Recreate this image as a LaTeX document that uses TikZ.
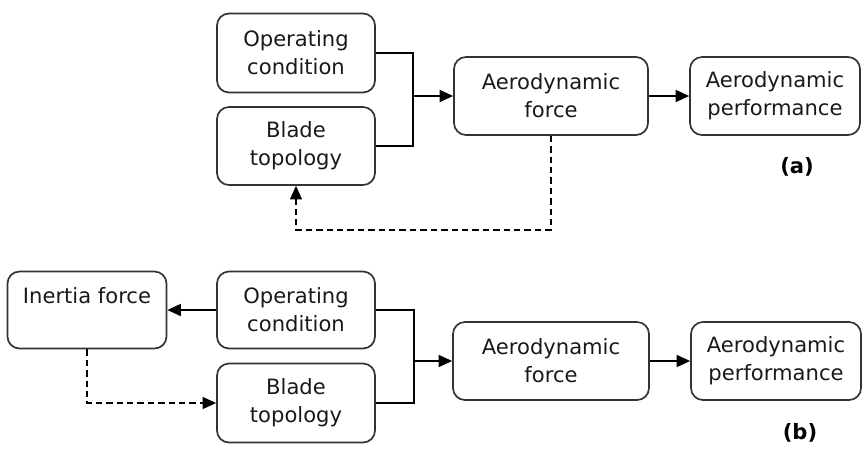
\documentclass[tikz,border=0pt]{standalone}
\usepackage{fontspec}
\setmainfont{DejaVu Sans}
\usetikzlibrary{arrows.meta}
\begin{document}
\begin{tikzpicture}[x=0.025cm,y=-0.025cm,
  box/.style={draw=black!80, line width=1.2pt, rounded corners=0.3cm,
    align=center, inner sep=0pt,
    font=\fontsize{15}{20}\selectfont, text=black!90},
  link/.style={line width=1.3pt, -{Triangle[length=0.34cm,width=0.3cm]}},
  plain/.style={line width=1.3pt},
  dashlink/.style={line width=1.1pt, dash pattern=on 0.16cm off 0.1cm,
    -{Triangle[length=0.34cm,width=0.3cm]}},
  tag/.style={font=\fontsize{15}{18}\selectfont\bfseries}]
\useasboundingbox (0,0) rectangle (865,456);

% ---- (a) ----
\node[box, minimum width=158*0.025cm, minimum height=79*0.025cm] (oca) at (296,53) {Operating\\condition};
\node[box, minimum width=158*0.025cm, minimum height=78*0.025cm] (bta) at (296,146) {Blade\\topology};
\node[box, minimum width=194*0.025cm, minimum height=78*0.025cm] (afa) at (551,96) {Aerodynamic\\force};
\node[box, minimum width=170*0.025cm, minimum height=78*0.025cm] (apa) at (775,96) {Aerodynamic\\performance};
\node[tag] (taga) at (797,167) {(a)};
\coordinate (ja) at (413,96);

\draw[plain] (oca.east) -| (ja) |- (bta.east);
\draw[link] (ja) -- (afa.west);
\draw[link] (afa) -- (apa);
\draw[dashlink] (afa.south) -- (551,230) -| (bta.south);

% ---- (b) ----
\node[box, minimum width=159*0.025cm, minimum height=77*0.025cm] (ifb) at (87,310) {Inertia force\\\mbox{}};
\node[box, minimum width=158*0.025cm, minimum height=77*0.025cm] (ocb) at (296,310) {Operating\\condition};
\node[box, minimum width=158*0.025cm, minimum height=79*0.025cm] (btb) at (296,403) {Blade\\topology};
\node[box, minimum width=196*0.025cm, minimum height=78*0.025cm] (afb) at (551,361) {Aerodynamic\\force};
\node[box, minimum width=170*0.025cm, minimum height=78*0.025cm] (apb) at (776,361) {Aerodynamic\\performance};
\node[tag] (tagb) at (800,433) {(b)};
\coordinate (jb) at (414,361);

\draw[link] (ocb.west) -- (ifb.east);
\draw[plain] (ocb.east) -| (jb) |- (btb.east);
\draw[link] (jb) -- (afb.west);
\draw[link] (afb) -- (apb);
\draw[dashlink] (ifb.south) |- (btb.west);
\end{tikzpicture}
\end{document}
